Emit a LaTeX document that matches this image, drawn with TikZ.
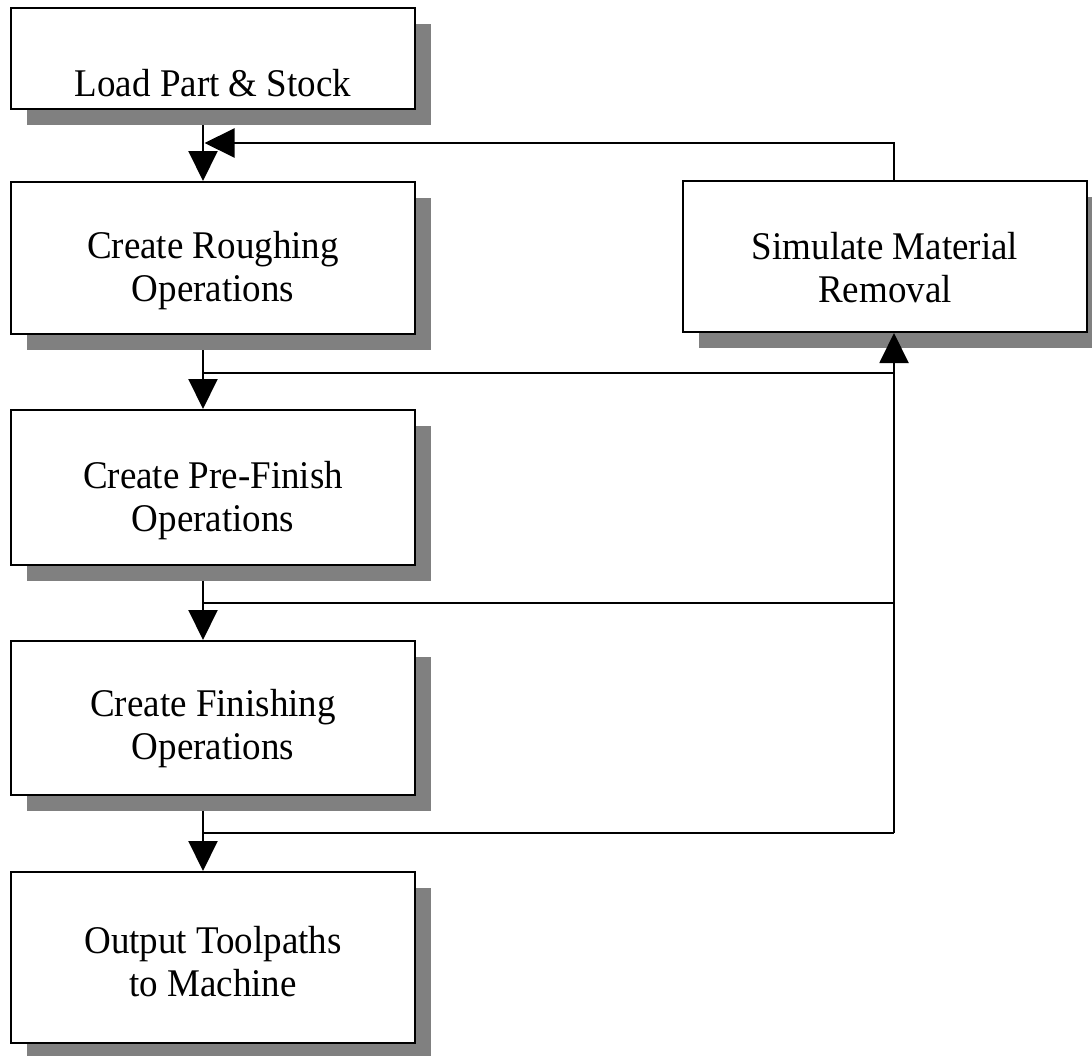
\documentclass[tikz,border=0pt]{standalone}
\usepackage{fontspec}
\setmainfont{Liberation Serif}
\usetikzlibrary{arrows.meta,shadows,backgrounds}
\definecolor{shadowgray}{HTML}{808080}
\tikzset{
  stepbox/.style={draw=black, line width=2pt, fill=white, minimum width=404pt, inner sep=0pt,
    drop shadow={shadow xshift=16pt, shadow yshift=-16pt, fill=shadowgray, opacity=1}},
  txt/.style={align=center, inner sep=0pt, font=\fontsize{37}{40.6}\selectfont, yscale=1.06, transform shape},
  conn/.style={line width=2pt, draw=black},
  arr/.style={conn, -{Triangle[width=29pt,length=30pt]}},
}
\begin{document}
\begin{tikzpicture}[x=1pt,y=-1pt]
\useasboundingbox (0,0) rectangle (1092,1055);
% boxes
\node[stepbox, minimum height=101pt] (load)  at (213,58.5)  {};
\node[stepbox, minimum height=152pt] (rough) at (213,258)   {};
\node[stepbox, minimum height=155pt] (pre)   at (213,487.5) {};
\node[stepbox, minimum height=154pt] (fin)   at (213,718)   {};
\node[stepbox, minimum height=171pt] (out)   at (213,957.5) {};
\node[stepbox, minimum height=151pt] (sim)   at (885,256.5) {};
% texts
\node[txt] (loadT)  at ([yshift=-25pt]load.center)  {Load Part \& Stock};
\node[txt] (roughT) at ([yshift=-13pt]rough.center) {Create Roughing\\Operations};
\node[txt] (preT)   at ([yshift=-13pt]pre.center) {Create Pre-Finish\\Operations};
\node[txt] (finT)   at ([yshift=-11pt]fin.center) {Create Finishing\\Operations};
\node[txt] (outT)   at ([yshift=-4pt]out.center)    {Output Toolpaths\\to Machine};
\node[txt] (simT)   at ([yshift=-11pt]sim.center) {Simulate Material\\Removal};
% connector coordinates
\coordinate (fb) at (204.5,143);
\coordinate (j1) at (203,373);
\coordinate (j2) at (203,603);
\coordinate (j3) at (203,833);
\coordinate (r3) at (894,833);
\begin{scope}[on background layer]
\draw[arr] ([xshift=-10pt]load.south) -- ([xshift=-10pt]rough.north);
\draw[arr] ([xshift=-10pt]rough.south) -- ([xshift=-10pt]pre.north);
\draw[arr] ([xshift=-10pt]pre.south) -- ([xshift=-10pt]fin.north);
\draw[arr] ([xshift=-10pt]fin.south) -- ([xshift=-10pt]out.north);
\draw[conn] (j1) -- (j1 -| r3);
\draw[conn] (j2) -- (j2 -| r3);
\draw[conn] (j3) -- (r3);
\end{scope}
\draw[arr] (r3) -- ([xshift=9pt]sim.south);
\draw[arr] ([xshift=9pt]sim.north) |- (fb);
\end{tikzpicture}
\end{document}
